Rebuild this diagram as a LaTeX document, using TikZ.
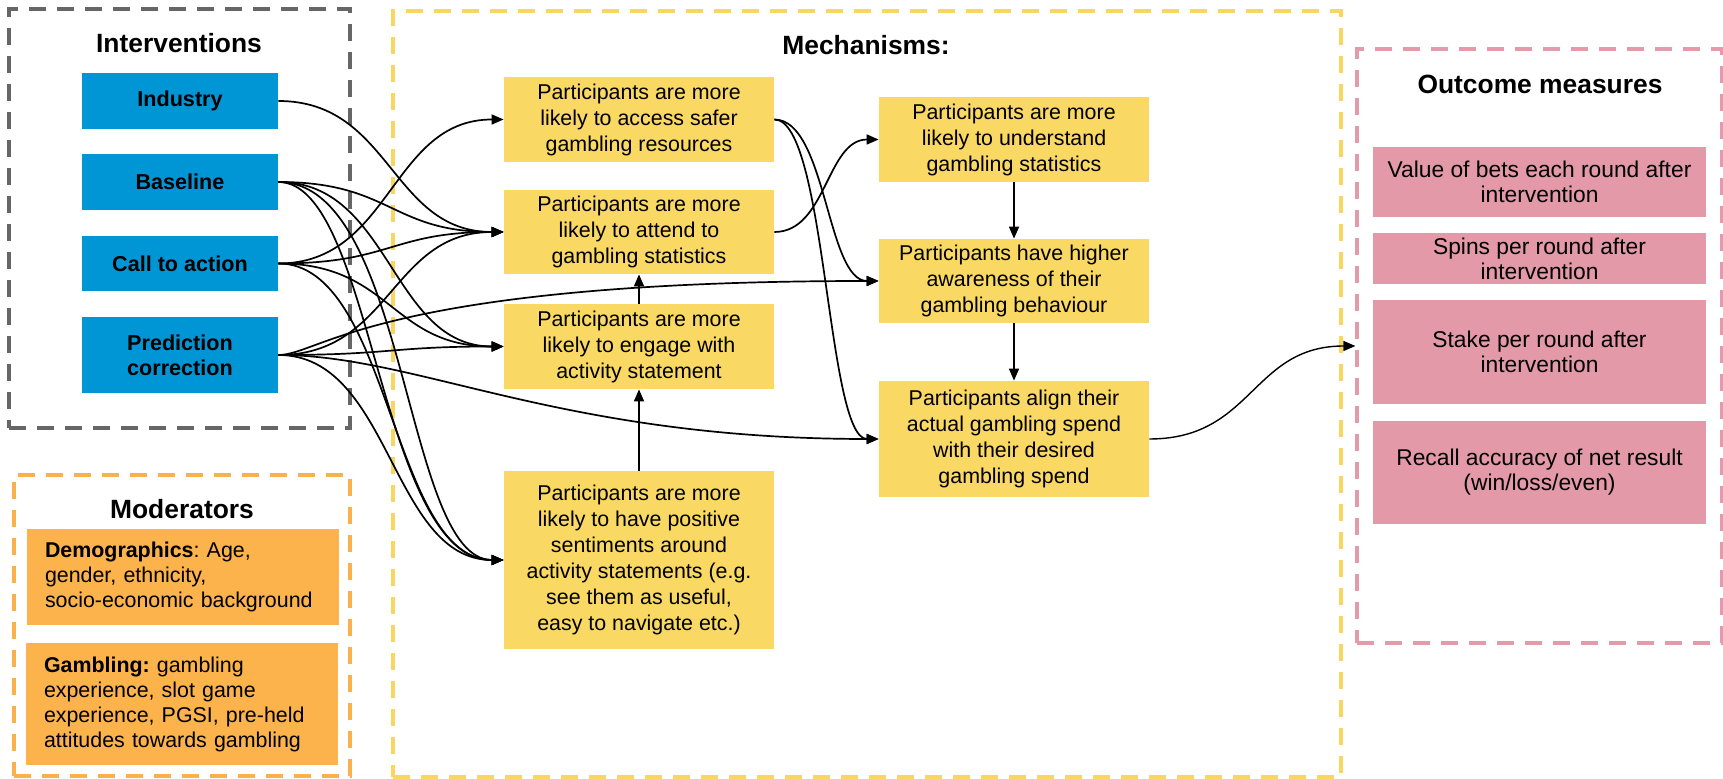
\documentclass[tikz,border=0pt]{standalone}
\usepackage{fontspec}
\setmainfont{Liberation Sans}
\usetikzlibrary{arrows.meta}
\frenchspacing
\definecolor{blueF}{RGB}{0,150,214}
\definecolor{yellowF}{RGB}{249,216,99}
\definecolor{orangeF}{RGB}{252,179,76}
\definecolor{pinkF}{RGB}{227,153,168}
\definecolor{grayD}{RGB}{102,102,102}
\definecolor{yellowD}{RGB}{249,214,95}
\definecolor{orangeD}{RGB}{250,177,75}
\definecolor{pinkD}{RGB}{228,154,170}
\tikzset{
  ybox/.style={fill=yellowF, minimum width=135pt, align=center, inner sep=0pt, font=\fontsize{10.7}{13}\selectfont},
  bbox/.style={fill=blueF, minimum width=98pt, align=center, inner sep=0pt, font=\bfseries\fontsize{10.8}{12.5}\selectfont},
  pbox/.style={fill=pinkF, minimum width=166.5pt, align=center, inner sep=0pt, font=\fontsize{11.4}{12.5}\selectfont},
  obox/.style={fill=orangeF, text width=138pt, align=left, inner xsep=9pt, inner ysep=0pt, font=\fontsize{10.7}{12.5}\selectfont},
  ttl/.style={font=\bfseries\fontsize{13.2}{15}\selectfont, inner sep=0pt},
  arr/.style={-{Triangle[length=6pt,width=5pt]}, line width=0.85pt},
  cont/.style={draw, line width=1.6pt, dash pattern=on 8.5pt off 5.5pt, inner sep=0pt},
}
\begin{document}
\begin{tikzpicture}[x=0.5pt,y=-0.5pt]
\useasboundingbox (0,0) rectangle (1723,779);

% containers
\node[cont, draw=grayD, minimum width=170.5pt, minimum height=209.5pt] (intbox) at (179.5,218.5) {};
\node[cont, draw=orangeD, minimum width=168pt, minimum height=150.5pt] (modbox) at (182,625.5) {};
\node[cont, draw=yellowD, minimum width=474pt, minimum height=383pt] (mechbox) at (867,394) {};
\node[cont, draw=pinkD, minimum width=182.25pt, minimum height=297pt] (outbox) at (1539.25,346) {};

% titles
\node[ttl] (tint) at (179,43) {Interventions};
\node[ttl] (tmod) at (182,509) {Moderators};
\node[ttl] (tmech) at (866,45) {Mechanisms:};
\node[ttl] (tout) at (1540,84) {Outcome measures};

% interventions
\node[bbox, minimum height=28pt] (ind) at (180,101) {Industry};
\node[bbox, minimum height=28pt] (base) at (180,182) {Baseline};
\node[bbox, minimum height=27.5pt] (call) at (180,263.5) {Call to action};
\node[bbox, minimum height=38pt] (pred) at (180,355) {Prediction\\correction};

% moderators
\node[obox, minimum height=48pt] (demo) at (183,577) {\textbf{Demographics}: Age,\\gender, ethnicity,\\socio-economic background};
\node[obox, minimum height=61pt] (gamb) at (182,704) {\textbf{Gambling:} gambling\\experience, slot game\\experience, PGSI, pre-held\\attitudes towards gambling};

% mechanisms
\node[ybox, minimum height=42.5pt] (A) at (639,119.5) {Participants are more\\likely to access safer\\gambling resources};
\node[ybox, minimum height=42pt] (B) at (639,232) {Participants are more\\likely to attend to\\gambling statistics};
\node[ybox, minimum height=42.5pt] (C) at (639,346.5) {Participants are more\\likely to engage with\\activity statement};
\node[ybox, minimum height=89pt] (D) at (639,560) {Participants are more\\likely to have positive\\sentiments around\\activity statements (e.g.\\see them as useful,\\easy to navigate etc.)};
\node[ybox, minimum height=42.5pt] (E) at (1014,139.5) {Participants are more\\likely to understand\\gambling statistics};
\node[ybox, minimum height=42pt] (F) at (1014,281) {Participants have higher\\awareness of their\\gambling behaviour};
\node[ybox, minimum height=58pt] (G) at (1014,439) {Participants align their\\actual gambling spend\\with their desired\\gambling spend};

% outcomes
\node[pbox, minimum height=35pt] (P1) at (1539.5,182) {Value of bets each round after\\intervention};
\node[pbox, minimum height=25.5pt] (P2) at (1539.5,258.5) {Spins per round after\\intervention};
\node[pbox, minimum height=52pt] (P3) at (1539.5,352) {Stake per round after\\intervention};
\node[pbox, minimum height=51.5pt] (P4) at (1539.5,472.5) {Recall accuracy of net result\\(win/loss/even)};

% interventions -> mechanisms
\draw[arr] (ind.east) .. controls +(113,0) and +(-113,0) .. (B.west);
\draw[arr] (base.east) .. controls +(113,0) and +(-113,0) .. (B.west);
\draw[arr] (base.east) .. controls +(113,0) and +(-113,0) .. (C.west);
\draw[arr] (base.east) .. controls +(95,0) and +(-125,0) .. (D.west);
\draw[arr] (base.east) .. controls +(130,0) and +(-100,0) .. (D.west);
\draw[arr] (call.east) .. controls +(113,0) and +(-113,0) .. (A.west);
\draw[arr] (call.east) .. controls +(113,0) and +(-113,0) .. (B.west);
\draw[arr] (call.east) .. controls +(113,0) and +(-113,0) .. (C.west);
\draw[arr] (call.east) .. controls +(113,0) and +(-113,0) .. (D.west);
\draw[arr] (pred.east) .. controls +(113,0) and +(-113,0) .. (B.west);
\draw[arr] (pred.east) .. controls +(113,0) and +(-113,0) .. (C.west);
\draw[arr] (pred.east) .. controls +(113,0) and +(-113,0) .. (D.west);
\draw[arr] (pred.east) .. controls +(42,0) and +(-499,0) .. (F.west);
\draw[arr] (pred.east) .. controls +(140,0) and +(-320,0) .. (G.west);

% within mechanisms
\draw[arr] (A.east) .. controls +(52,0) and +(-52,0) .. (F.west);
\draw[arr] (A.east) .. controls +(52,0) and +(-52,0) .. (G.west);
\draw[arr] (B.east) .. controls +(52,0) and +(-52,0) .. (E.west);
\draw[arr] (C.north) -- (B.south);
\draw[arr] (D.north) -- (C.south);
\draw[arr] (E.south) -- (F.north);
\draw[arr] (F.south) -- (G.north);

% mechanisms -> outcomes
\draw[arr, line width=0.7pt] (G.east) .. controls +(104,0) and +(-104,0) .. (outbox.west);
\end{tikzpicture}
\end{document}
